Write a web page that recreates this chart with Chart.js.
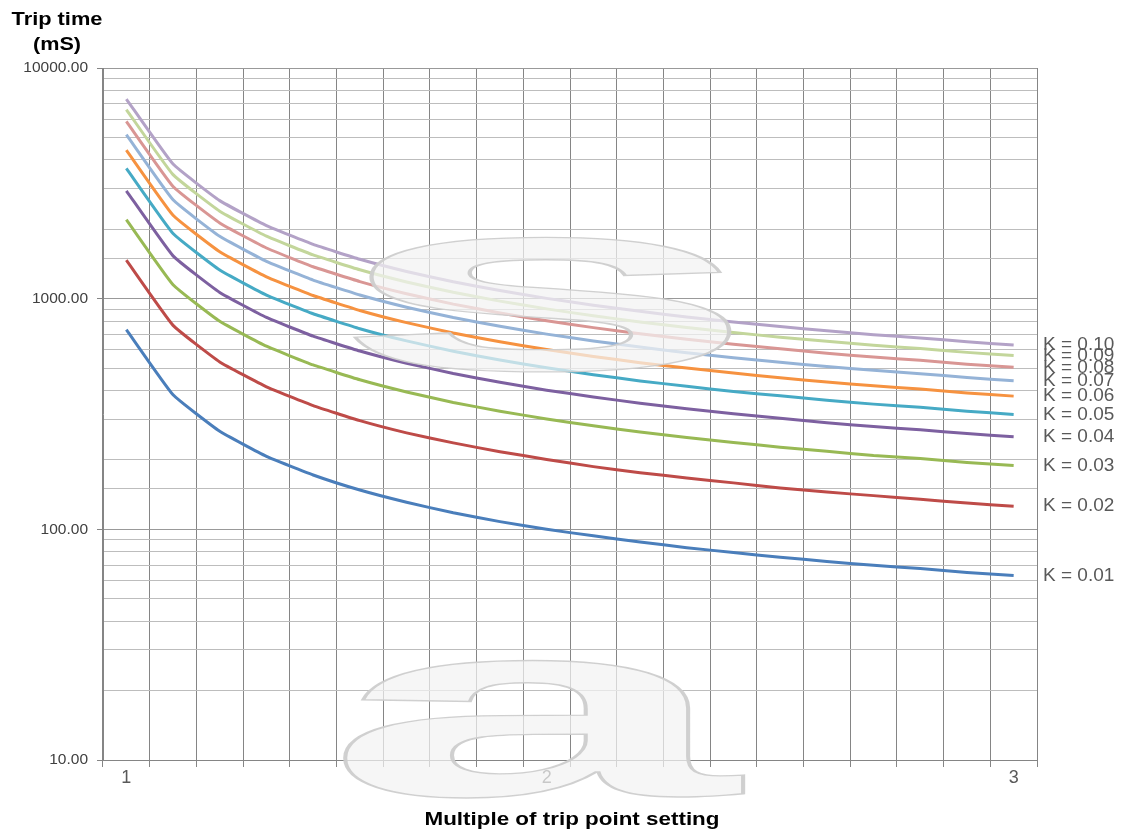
<!DOCTYPE html>
<html>
<head>
<meta charset="utf-8">
<script src="https://cdn.jsdelivr.net/npm/chart.js@4/dist/chart.umd.min.js"></script>
<style>
  html, body { margin: 0; padding: 0; background: #fff; }
  #wrap { width: 1124px; height: 831px; }
</style>
</head>
<body>
<div id="wrap"><canvas id="tripChart" width="1124" height="831"></canvas></div>
<script>
// multiple of trip point setting (category axis)
const multiples = ['1.1', '1.2', '1.3', '1.4', '1.5', '1.6', '1.7', '1.8', '1.9', '2.0',
                   '2.1', '2.2', '2.3', '2.4', '2.5', '2.6', '2.7', '2.8', '2.9', '3.0'];
const xTickLabels = ['1', '', '', '', '', '', '', '', '', '2',
                     '', '', '', '', '', '', '', '', '', '3'];
const yTickLabels = ['10.00', '100.00', '1000.00', '10000.00'];

// trip time in mS, one array per K setting
const k01 = [734, 383, 266, 207, 172, 148, 131, 118, 108, 100, 93.7, 88.1, 83.3, 79.3, 75.7, 72.6, 69.8, 67.6, 65.0, 63.0];
const k02 = [1468, 766, 532, 415, 344, 296, 262, 237, 217, 201, 187, 176, 167, 159, 151, 145, 140, 135, 130, 126];
const k03 = [2201, 1150, 798, 622, 516, 445, 394, 355, 325, 301, 281, 264, 250, 238, 227, 218, 209, 203, 195, 189];
const k04 = [2935, 1533, 1064, 829, 688, 593, 525, 474, 434, 401, 375, 352, 333, 317, 303, 290, 279, 270, 260, 252];
const k05 = [3669, 1916, 1331, 1036, 860, 741, 656, 592, 542, 502, 468, 440, 417, 396, 379, 363, 349, 338, 325, 315];
const k06 = [4403, 2299, 1597, 1244, 1032, 889, 787, 710, 650, 602, 562, 528, 500, 476, 454, 435, 419, 406, 390, 378];
const k07 = [5137, 2682, 1863, 1451, 1204, 1037, 918, 829, 759, 702, 656, 617, 583, 555, 530, 508, 489, 473, 455, 441];
const k08 = [5870, 3066, 2129, 1658, 1375, 1186, 1050, 947, 867, 802, 749, 705, 667, 634, 606, 580, 558, 541, 520, 504];
const k09 = [6604, 3449, 2395, 1866, 1547, 1334, 1181, 1066, 976, 903, 843, 793, 750, 713, 681, 653, 628, 608, 585, 567];
const k10 = [7338, 3832, 2661, 2073, 1719, 1482, 1312, 1184, 1084, 1003, 937, 881, 833, 793, 757, 726, 698, 676, 650, 630];

const kLabels = ['K = 0.01', 'K = 0.02', 'K = 0.03', 'K = 0.04', 'K = 0.05',
                 'K = 0.06', 'K = 0.07', 'K = 0.08', 'K = 0.09', 'K = 0.10'];
const seriesData = [k01, k02, k03, k04, k05, k06, k07, k08, k09, k10];
const lineColors = ['#4a7ebb', '#be4b48', '#98b954', '#7d60a0', '#46aac5',
                    '#f69240', '#95b3d7', '#d99694', '#c3d69b', '#b3a2c7'];

const FONT = 'Arial, "Liberation Sans", sans-serif';

// draw text stretched into a box (the original picture is widened)
function fitText(ctx, text, x0, y0, x1, y1) {
    const m = ctx.measureText(text);
    const w = m.actualBoundingBoxLeft + m.actualBoundingBoxRight;
    const h = m.actualBoundingBoxAscent + m.actualBoundingBoxDescent;
    ctx.save();
    ctx.translate(x0, y0);
    ctx.scale((x1 - x0) / w, (y1 - y0) / h);
    ctx.translate(m.actualBoundingBoxLeft, m.actualBoundingBoxAscent);
    ctx.fillText(text, 0, 0);
    ctx.lineWidth = 1.1;
    ctx.strokeText(text, 0, 0);
    ctx.restore();
}

function stretchedText(ctx, text, cx, baseline, width) {
    const w = ctx.measureText(text).width;
    ctx.save();
    ctx.translate(cx, baseline);
    ctx.scale(width / w, 1);
    ctx.textAlign = 'center';
    ctx.fillText(text, 0, 0);
    ctx.restore();
}

const extrasPlugin = {
    id: 'extras',
    afterDatasetsDraw(chart) {
        const ctx = chart.ctx;
        const y = chart.scales.y;
        // K labels at the end of each curve
        ctx.save();
        ctx.font = '19px ' + FONT;
        ctx.fillStyle = '#595959';
        ctx.textBaseline = 'middle';
        ctx.textAlign = 'left';
        seriesData.forEach((arr, i) => {
            ctx.fillText(kLabels[i], 1043, y.getPixelForValue(arr[arr.length - 1]));
        });
        ctx.restore();
    },
    afterDraw(chart) {
        const ctx = chart.ctx;
        ctx.save();
        // axis titles
        ctx.fillStyle = '#000';
        ctx.font = 'bold 18px ' + FONT;
        stretchedText(ctx, 'Trip time', 57, 25, 91);
        stretchedText(ctx, '(mS)', 57, 50, 48);
        stretchedText(ctx, 'Multiple of trip point setting', 572, 825, 295);

        // faint watermark
        ctx.font = 'bold 200px ' + FONT;
        ctx.fillStyle = 'rgba(242,242,242,0.72)';
        ctx.strokeStyle = 'rgba(205,205,205,0.95)';
        fitText(ctx, 's', 355, 237, 733, 372);
        fitText(ctx, 'a', 342, 660, 745, 798);
        ctx.restore();
    }
};

const ctx = document.getElementById('tripChart').getContext('2d');
new Chart(ctx, {
    type: 'line',
    data: {
        labels: multiples,
        datasets: seriesData.map((arr, i) => ({
            label: kLabels[i],
            data: arr,
            borderColor: lineColors[i],
            backgroundColor: lineColors[i],
            borderWidth: 3,
            pointRadius: 0,
            tension: 0.12,
            fill: false
        }))
    },
    options: {
        responsive: false,
        animation: false,
        layout: { padding: { left: 0, top: 68, right: 87, bottom: 0 } },
        plugins: {
            legend: { display: false },
            tooltip: { enabled: false },
            title: { display: false }
        },
        scales: {
            x: {
                type: 'category',
                offset: true,
                grid: {
                    offset: true,
                    color: '#858585',
                    lineWidth: 1,
                    tickLength: 7,
                    tickColor: '#858585'
                },
                border: { color: '#858585', width: 1 },
                ticks: {
                    autoSkip: false,
                    maxRotation: 0,
                    color: '#595959',
                    font: { family: FONT, size: 18 },
                    padding: 0,
                    callback: (val, i) => xTickLabels[i]
                },
                afterFit: (scale) => { scale.height = 71; }
            },
            y: {
                type: 'logarithmic',
                min: 10,
                max: 10000,
                grid: {
                    color: (c) => {
                        const v = c.tick && c.tick.value;
                        const lg = Math.log10(v);
                        return Math.abs(lg - Math.round(lg)) < 1e-9 ? '#999999' : '#bdbdbd';
                    },
                    lineWidth: 1,
                    tickLength: 6,
                    tickColor: (c) => {
                        const v = c.tick && c.tick.value;
                        const lg = Math.log10(v);
                        return Math.abs(lg - Math.round(lg)) < 1e-9 ? '#858585' : 'rgba(0,0,0,0)';
                    }
                },
                border: { color: '#858585', width: 1 },
                ticks: {
                    autoSkip: false,
                    color: '#404040',
                    font: { family: FONT, size: 15.5 },
                    padding: 9,
                    callback: (val) => {
                        const lg = Math.log10(val);
                        if (Math.abs(lg - Math.round(lg)) < 1e-9) {
                            return yTickLabels[Math.round(lg) - 1];
                        }
                        return '';
                    }
                },
                afterFit: (scale) => { scale.width = 103; }
            }
        }
    },
    plugins: [extrasPlugin]
});
</script>
</body>
</html>
